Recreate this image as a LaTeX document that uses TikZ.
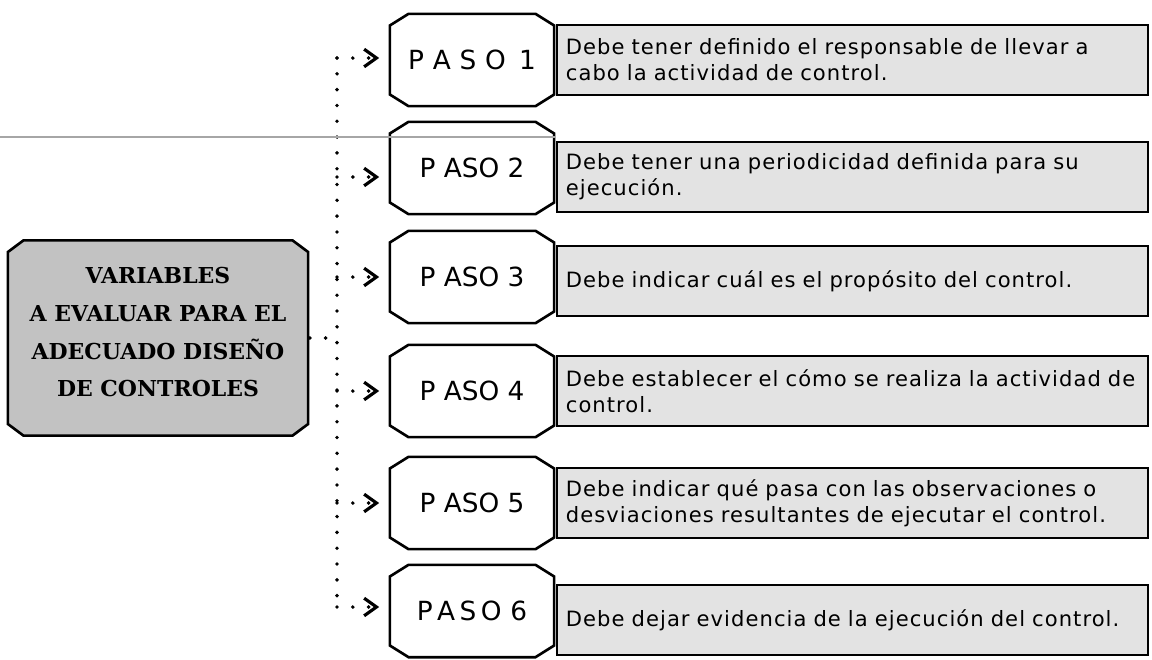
\documentclass[tikz,border=0pt]{standalone}
\usepackage{fontspec}
\setmainfont{DejaVu Sans}
\newfontfamily\titlefont{DejaVu Serif}
\usetikzlibrary{arrows.meta, positioning}
\newcommand{\chamferbox}[3]{%
  \filldraw [line width=1.5pt, draw=black, fill=#3]
    ([shift={(#1,-0.75pt)}]path picture bounding box.north west) -- ([shift={(-#1,-0.75pt)}]path picture bounding box.north east)
    -- ([shift={(-0.75pt,-#2)}]path picture bounding box.north east) -- ([shift={(-0.75pt,#2)}]path picture bounding box.south east)
    -- ([shift={(-#1,0.75pt)}]path picture bounding box.south east) -- ([shift={(#1,0.75pt)}]path picture bounding box.south west)
    -- ([shift={(0.75pt,#2)}]path picture bounding box.south west) -- ([shift={(0.75pt,-#2)}]path picture bounding box.north west) -- cycle;}
\tikzstyle{mainbox} = [rectangle, minimum width=6.06cm, minimum height=3.96cm, inner sep=0pt, align=center, path picture={\chamferbox{0.34cm}{0.26cm}{gray!48}}, font=\titlefont\bfseries\fontsize{12.5}{21.5}\selectfont]
\tikzstyle{pasobox} = [rectangle, minimum width=3.34cm, minimum height=1.9cm, inner sep=0pt, path picture={\chamferbox{0.4cm}{0.26cm}{white}}, font=\fontsize{15}{18}\selectfont]
\tikzstyle{descbox} = [rectangle, minimum width=11.82cm, minimum height=1.4cm, text width=11.46cm, align=left, inner xsep=0.18cm, draw=black, line width=1.2pt, fill=gray!22, font=\fontsize{12}{14.7}\selectfont\addfontfeature{LetterSpace=5}]
\tikzstyle{dotline} = [line width=2.2pt, line cap=round, dash pattern=on 0pt off 9pt]
\tikzstyle{arrow} = [dotline, -{Straight Barb[length=7pt, width=10pt, line width=1.8pt]}]

\begin{document}
\begin{tikzpicture}[x=0.02cm, y=-0.02cm]
    \useasboundingbox (0,0) rectangle (1152,659);
    \node (main) [mainbox] at (158,338) {VARIABLES\\A EVALUAR PARA EL\\ADECUADO DISEÑO\\DE CONTROLES\\[-0.52cm]};
    \node (paso1) [pasobox] at (472,60) {P\,\,A\,\,S\,\,O\,\,\,1};
    \node (paso2) [pasobox] at (472,168) {P ASO 2};
    \node (paso3) [pasobox] at (472,277) {P ASO 3};
    \node (paso4) [pasobox] at (472,391) {P ASO 4};
    \node (paso5) [pasobox] at (472,503) {P ASO 5};
    \node (paso6) [pasobox] at (472,611) {P\,A\,S\,O\,\,6};
    \node (desc1) [descbox, right=0pt of paso1] {Debe tener definido el responsable de llevar a\\cabo la actividad de control.};
    \node (desc2) [descbox, right=0pt of paso2, yshift=-0.18cm] {Debe tener una periodicidad definida para su\\ejecución.};
    \node (desc3) [descbox, right=0pt of paso3, yshift=-0.08cm] {Debe indicar cuál es el propósito del control.};
    \node (desc4) [descbox, right=0pt of paso4] {Debe establecer el cómo se realiza la actividad de\\control.};
    \node (desc5) [descbox, right=0pt of paso5] {Debe indicar qué pasa con las observaciones o\\desviaciones resultantes de ejecutar el control.};
    \node (desc6) [descbox, right=0pt of paso6, yshift=-0.18cm] {Debe dejar evidencia de la ejecución del control.};
    \coordinate (top) at (337,58);
    \coordinate (bottom) at (337,607);

    \draw [dotline] (top) -- (bottom);
    \draw [dotline] (main.east) -- (main.east -| top);
    \draw [arrow] (top) -- ([xshift=-0.18cm]paso1.west |- top);
    \draw [arrow] (desc2.west -| top) -- ([xshift=-0.18cm]paso2.west |- desc2.west);
    \draw [arrow] (paso3.west -| top) -- ([xshift=-0.18cm]paso3.west);
    \draw [arrow] (paso4.west -| top) -- ([xshift=-0.18cm]paso4.west);
    \draw [arrow] (paso5.west -| top) -- ([xshift=-0.18cm]paso5.west);
    \draw [arrow] (bottom) -- ([xshift=-0.18cm]paso6.west |- bottom);
    \draw [gray!70, line width=0.6pt] (0,137) -- (paso2.east |- 0,137);
  \end{tikzpicture}
\end{document}
